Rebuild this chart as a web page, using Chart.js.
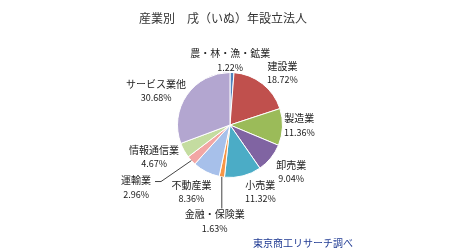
<!DOCTYPE html>
<html>
<head>
<meta charset="utf-8">
<script src="https://cdn.jsdelivr.net/npm/chart.js@4"></script>
<style>
  body { margin: 0; background: #ffffff; }
  #wrap { width: 450px; height: 250px; }
</style>
</head>
<body>
<div id="wrap"><canvas id="pieCanva" width="450" height="250"></canvas></div>
<script>
// Data
const categories = ['農・林・漁・鉱業', '建設業', '製造業', '卸売業', '小売業', '金融・保険業', '不動産業', '運輸業', '情報通信業', 'サービス業他'];
const shares = [1.22, 18.72, 11.36, 9.04, 11.32, 1.63, 8.36, 2.96, 4.67, 30.68];
const shareLabels = ['1.22%', '18.72%', '11.36%', '9.04%', '11.32%', '1.63%', '8.36%', '2.96%', '4.67%', '30.68%'];
const chartTitle = '産業別　戌（いぬ）年設立法人';
const sourceText = '東京商工リサーチ調べ';

// Slice colors
const sliceColors = ['#4f81bd', '#c0504d', '#9bbb59', '#8064a2', '#4bacc6', '#f79646', '#a7c0ea', '#f2a6a4', '#c4dca0', '#b3a6d0'];

// Label placement : angle shift (deg) from slice middle, and distance in radius units
const labelShift = [-2, 7, -2, -1.5, -10, 0, 3, 9, 6, -10];
const labelDist = [1.23, 1.41, 1.32, 1.47, 1.40, 1.86, 1.47, 2.15, 1.57, 1.55];

const ctx = document.getElementById('pieCanva').getContext('2d');
const cjkFont = '"Noto Sans CJK JP", "Noto Sans", sans-serif';

/////// Plugin to draw title, labels, leader lines and source ///////
const labelPlugin = {
    id: 'labelPlugin',
    afterDraw(chart) {
        const c = chart.ctx;
        const arcs = chart.getDatasetMeta(0).data;
        c.save();
        c.textAlign = 'center';
        c.textBaseline = 'middle';

        // Title
        c.fillStyle = '#333333';
        c.font = '12px ' + cjkFont;
        c.fillText(chartTitle, 223, 18);

        // Labels
        arcs.forEach((arc, i) => {
            const mid = (arc.startAngle + arc.endAngle) / 2;
            const a = mid + labelShift[i] * Math.PI / 180;
            const R = arc.outerRadius;
            const lx = arc.x + Math.cos(a) * R * labelDist[i];
            const ly = arc.y + Math.sin(a) * R * labelDist[i];

            c.fillStyle = '#222222';
            c.font = '10px ' + cjkFont;
            c.fillText(categories[i], lx, ly - 7);
            c.font = '9px ' + cjkFont;
            c.fillText(shareLabels[i], lx, ly + 7);

            // leader lines for the small slices
            const ex = arc.x + Math.cos(mid) * R;
            const ey = arc.y + Math.sin(mid) * R;
            c.strokeStyle = '#444444';
            c.lineWidth = 1;
            if (i == 5) {
                c.beginPath();
                c.moveTo(ex, ey);
                c.lineTo(ex, ly - 13);
                c.stroke();
            }
            if (i == 7) {
                c.font = '10px ' + cjkFont;
                const right = lx + c.measureText(categories[i]).width / 2;
                c.beginPath();
                c.moveTo(ex, ey);
                c.lineTo(right + 10, ly - 6);
                c.lineTo(right + 4, ly - 6);
                c.stroke();
            }
        });

        // Source
        c.fillStyle = '#1f3a93';
        c.font = '10px ' + cjkFont;
        c.fillText(sourceText, 303, 243);
        c.restore();
    }
};

/////////////////// Create the Graph ////////////////////
const pieChart = new Chart(ctx, {
    type: 'pie',
    data: {
        labels: categories,
        datasets: [{
            data: shares,
            backgroundColor: sliceColors,
            borderColor: '#ffffff',
            borderWidth: 1
        }]
    },
    options: {
        responsive: false,
        animation: false,
        layout: {
            padding: { top: 72, bottom: 72, left: 177, right: 167 }
        },
        plugins: {
            legend: { display: false },
            tooltip: { enabled: false },
            title: { display: false }
        }
    },
    plugins: [labelPlugin]
});
</script>
</body>
</html>
